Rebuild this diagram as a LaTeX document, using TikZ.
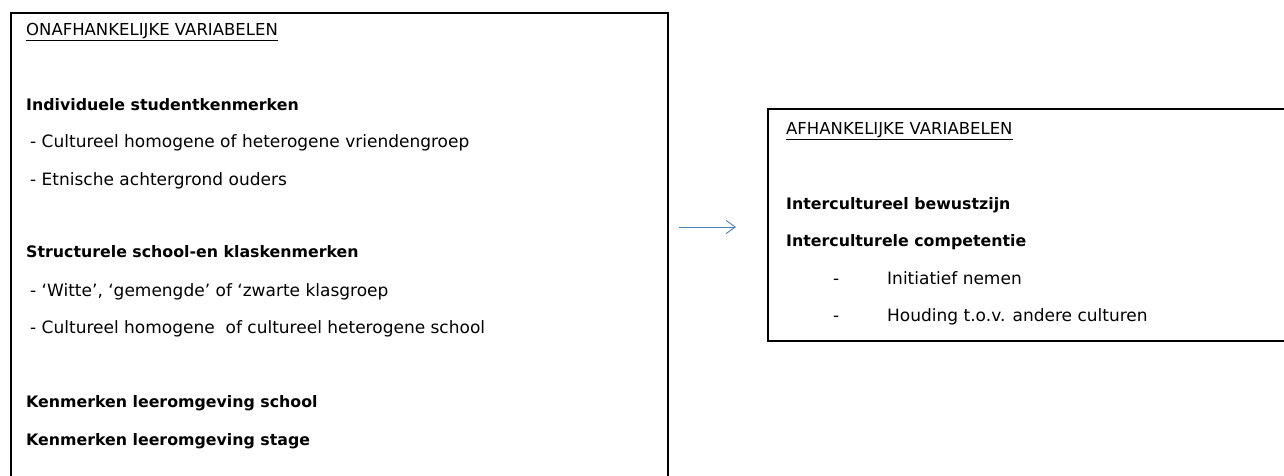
\documentclass[tikz,border=0pt]{standalone}
\usepackage{fontspec}
\setmainfont{DejaVu Sans}
\usetikzlibrary{arrows.meta}
\definecolor{arrowblue}{HTML}{4A7EBB}
\tikzset{
  frame/.style={line width=2pt, draw=black},
  txt/.style={anchor=base west, inner sep=0pt, font=\fontsize{17}{21}\selectfont},
  ttl/.style={txt, font=\fontsize{16.5}{21}\selectfont},
  btxt/.style={txt, font=\fontsize{15.8}{21}\selectfont\bfseries},
  link/.style={draw=arrowblue, line width=0.9pt, -{Straight Barb[length=9pt,width=13pt,line width=0.9pt]}}
}
\begin{document}
\begin{tikzpicture}[x=1pt,y=-1pt]
\useasboundingbox (0,0) rectangle (1284,475);
\clip (0,0) rectangle (1284,475);
% left box
\draw[frame] (11,490) -- (11,13) -- (668,13) -- (668,490);
% right box
\draw[frame] (1300,109) -- (768,109) -- (768,341) -- (1300,341);

\node[ttl] (t1) at (26,35) {\underline{ONAFHANKELIJKE VARIABELEN}};
\node[btxt] (h1) at (26,110) {Individuele studentkenmerken};
\node[txt] (a1) at (30,147) {- Cultureel homogene of heterogene vriendengroep};
\node[txt] (a2) at (30,185) {- Etnische achtergrond ouders};
\node[btxt] (h2) at (26,257) {Structurele school-en klaskenmerken};
\node[txt] (b1) at (30,296) {- ‘Witte’, ‘gemengde’ of ‘zwarte klasgroep};
\node[txt] (b2) at (30,333) {- Cultureel homogene\ \ of cultureel heterogene school};
\node[btxt] (h3) at (26,407) {Kenmerken leeromgeving school};
\node[btxt] (h4) at (26,445) {Kenmerken leeromgeving stage};

\node[ttl] (t2) at (786,134) {\underline{AFHANKELIJKE VARIABELEN}};
\node[btxt] (r1) at (786,209) {Intercultureel bewustzijn};
\node[btxt] (r2) at (786,246) {Interculturele competentie};
\node[txt] (d1) at (833,284) {-};
\node[txt] (c1) at (887,284) {Initiatief nemen};
\node[txt] (d2) at (833,321) {-};
\node[txt] (c2) at (887,321) {Houding t.o.v. andere culturen};

\coordinate (as) at (679,227);
\coordinate (ae) at (736,227);
\draw[link] (as) -- (ae);
\end{tikzpicture}
\end{document}
